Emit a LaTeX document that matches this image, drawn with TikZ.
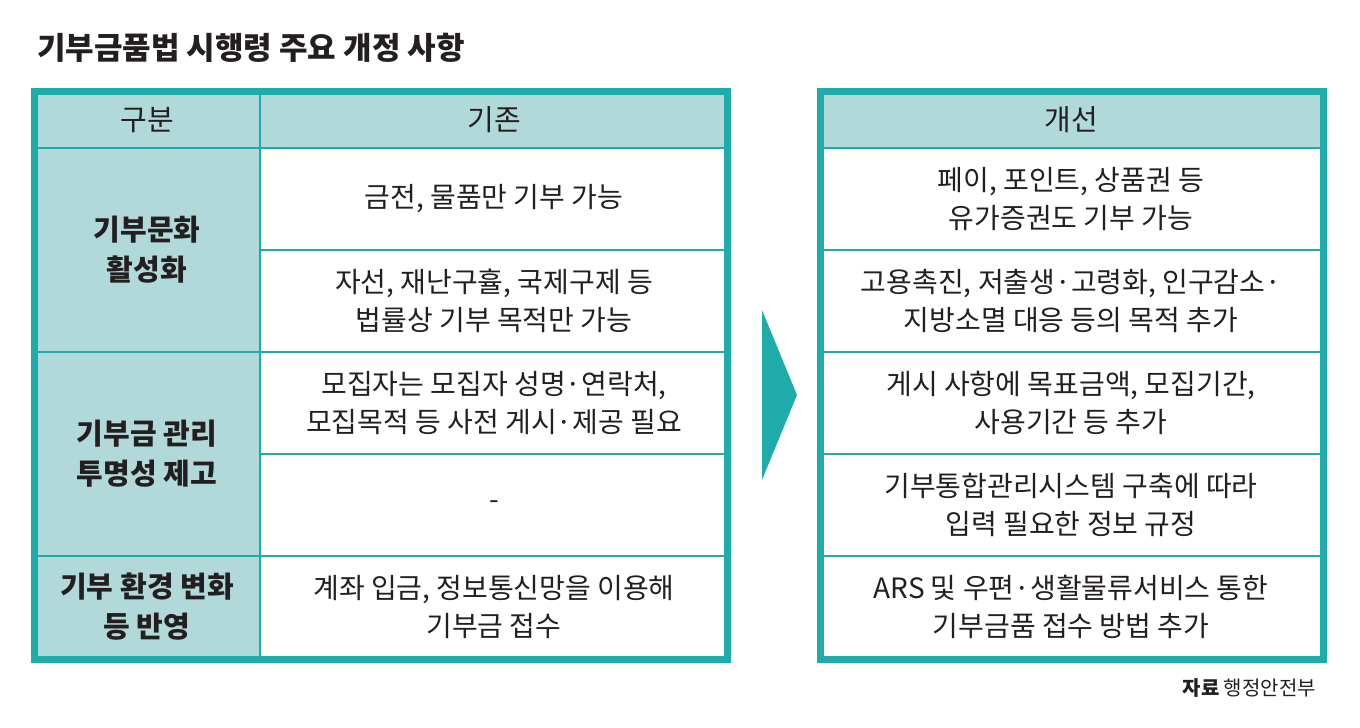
\documentclass[tikz,border=0pt]{standalone}
\usepackage{fontspec}
\setmainfont{Noto Sans CJK KR}
\definecolor{teal1}{HTML}{20ABAB}
\definecolor{lightteal}{HTML}{B1D9D9}
\definecolor{ink}{HTML}{231F20}
\tikzset{
	cell/.style={align=center, text=ink, font=\fontsize{14}{19}\selectfont},
	label/.style={cell, font=\fontsize{14.5}{20}\selectfont\bfseries},
	grid/.style={teal1, line width=1pt},
	frame/.style={teal1, line width=3.5pt}
}
\begin{document}
\begin{tikzpicture}[x=0.5pt,y=-0.5pt]
	\useasboundingbox (0,0) rectangle (1360,728);
	\node[anchor=west, text=ink, font=\fontsize{15.5}{18}\selectfont\bfseries] (title) at (30,48) {기부금품법 시행령 주요 개정 사항};
	
	% left table
	\fill[lightteal] (34,91) rectangle (727,148);
	\fill[lightteal] (34,148) rectangle (260,659);
	\draw[grid] (260,91) -- (260,659);
	\foreach \y in {148,556} \draw[grid] (34,\y) -- (727,\y);
	\draw[grid] (34,352) -- (727,352);
	\foreach \y in {250,454} \draw[grid] (260,\y) -- (727,\y);
	\draw[frame] (34,91) rectangle (727,659);
	
	% right table
	\fill[lightteal] (820,91) rectangle (1323,148);
	\foreach \y in {148,250,352,454,556} \draw[grid] (820,\y) -- (1323,\y);
	\draw[frame] (820,91) rectangle (1323,659);
	
	% arrow
	\fill[teal1] (762,310) -- (797,395) -- (762,480) -- cycle;
	
	\node[cell, font=\fontsize{14.5}{19}\selectfont] (h1) at (147,120) {구분};
	\node[cell, font=\fontsize{14.5}{19}\selectfont] (h2) at (494,120) {기존};
	\node[cell, font=\fontsize{14.5}{19}\selectfont] (h3) at (1071,120) {개선};
	
	\node[label] (g1) at (147,250) {기부문화\\활성화};
	\node[label] (g2) at (147,454) {기부금 관리\\투명성 제고};
	\node[label] (g3) at (147,607) {기부 환경 변화\\등 반영};
	
	\node[cell] (a1) at (494,199) {금전, 물품만 기부 가능};
	\node[cell] (a2) at (494,301) {자선, 재난구휼, 국제구제 등\\법률상 기부 목적만 가능};
	\node[cell] (a3) at (494,403) {모집자는 모집자 성명·연락처,\\모집목적 등 사전 게시·제공 필요};
	\node[cell] (a4) at (494,505) {-};
	\node[cell] (a5) at (494,607) {계좌 입금, 정보통신망을 이용해\\기부금 접수};
	
	\node[cell] (b1) at (1071,199) {페이, 포인트, 상품권 등\\유가증권도 기부 가능};
	\node[cell] (b2) at (1071,301) {고용촉진, 저출생·고령화, 인구감소·\\지방소멸 대응 등의 목적 추가};
	\node[cell] (b3) at (1071,403) {게시 사항에 목표금액, 모집기간,\\사용기간 등 추가};
	\node[cell] (b4) at (1071,505) {기부통합관리시스템 구축에 따라\\입력 필요한 정보 규정};
	\node[cell] (b5) at (1071,607) {ARS 및 우편·생활물류서비스 통한\\기부금품 접수 방법 추가};
	
	\node[anchor=east, text=ink, font=\fontsize{10}{12}\selectfont] (src) at (1323,688) {\textbf{자료} 행정안전부};
\end{tikzpicture}
\end{document}
